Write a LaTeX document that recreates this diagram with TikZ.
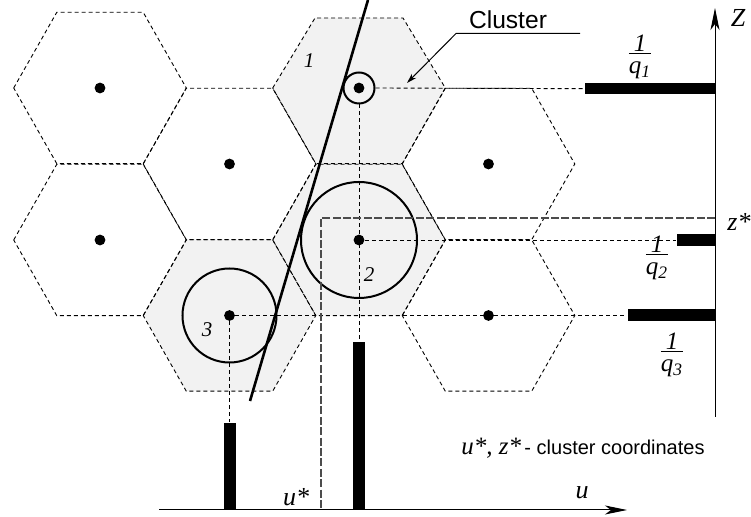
\documentclass[tikz,border=0pt]{standalone}
\usepackage{fontspec}
\setmainfont{Liberation Serif}
\setsansfont{Liberation Sans}
\usetikzlibrary{arrows.meta}
% 1/q_i weight written as a small fraction
\newcommand\invq[1]{%
  \begin{tabular}{@{}c@{}}\itshape 1\\[-3.5pt]\hline
  \rule{0pt}{10pt}\itshape q\textsubscript{\itshape #1}\end{tabular}}
\begin{document}
\begin{tikzpicture}[x=0.5pt,y=-0.5pt,
  hexedge/.style={draw=black, line width=0.45pt, dash pattern=on 2pt off 1.5pt},
  hexfill/.style={fill=black!5},
  guide/.style={line width=0.45pt, dash pattern=on 2pt off 1.5pt},
  coordline/.style={line width=0.55pt, draw=black!70, dash pattern=on 4pt off 1.2pt},
  ring/.style={circle, draw, line width=1pt, inner sep=0pt},
  dot/.style={circle, fill=black, inner sep=0pt, minimum size=5.4pt},
  hbar/.style={fill=black, inner sep=0pt, anchor=east},
  vbar/.style={fill=black, inner sep=0pt, anchor=south},
  axis/.style={line width=0.5pt, -{Stealth[length=11pt,width=4.5pt,inset=3pt]}},
  lab/.style={font=\fontsize{13}{15}\selectfont\itshape, inner sep=0pt},
  num/.style={font=\fontsize{10.5}{12}\selectfont\itshape, inner sep=0pt},
  frac/.style={font=\fontsize{12.5}{14}\selectfont, inner sep=0pt},
  hexcell/.pic={\path[pic actions] (-86.3,0) -- (-43.2,-75.7) -- (43.2,-75.7)
     -- (86.3,0) -- (43.2,75.7) -- (-43.2,75.7) -- cycle;},
  ]
\useasboundingbox (0,0) rectangle (751,517);

% shaded cells of the cluster
\fill[hexfill] (272.7,88) -- (315,18) -- (403,18) -- (445.3,88)
   -- (402.2,163.7) -- (315.8,163.7) -- cycle;
\pic[hexfill] at (359,240) {hexcell};
\pic[hexfill] at (229.5,315.5) {hexcell};

% cell outlines
\pic[hexedge] at (100,88) {hexcell};
\pic[hexedge] at (229.5,164) {hexcell};
\pic[hexedge] at (100,240) {hexcell};
\draw[hexedge] (272.7,88) -- (315,18) -- (403,18) -- (445.3,88)
   -- (402.2,163.7) -- (315.8,163.7) -- cycle;
\pic[hexedge] at (359,240) {hexcell};
\pic[hexedge] at (229.5,315.5) {hexcell};
\pic[hexedge] at (488.5,164) {hexcell};
\pic[hexedge] at (488.5,315.5) {hexcell};

% cell centres
\node[dot] (d1) at (100,88) {};
\node[dot] (d2) at (229.5,164) {};
\node[dot] (d3) at (100,240) {};
\node[dot] (d4) at (359,88) {};
\node[dot] (d5) at (359,240) {};
\node[dot] (d6) at (229.5,315.5) {};
\node[dot] (d7) at (488.5,164) {};
\node[dot] (d8) at (488.5,315.5) {};

% circles of the three cluster members
\node[ring, minimum size=15.5pt] (c1) at (d4) {};
\node[ring, minimum size=58pt] (c2) at (d5) {};
\node[ring, minimum size=47pt] (c3) at (d6) {};

% axes
\coordinate (zbot) at (715,417);
\coordinate (ztop) at (715,8);
\coordinate (uleft) at (159,510);
\coordinate (uright) at (627,510);
\draw[axis] (zbot) -- (ztop);
\draw[axis] (uleft) -- (uright);

% weight bars on the axes
\node[hbar, minimum width=65pt, minimum height=5.6pt] (b1) at (715,88.7) {};
\node[hbar, minimum width=19pt, minimum height=5.6pt] (b2) at (715,240) {};
\node[hbar, minimum width=43.5pt, minimum height=6pt] (b3) at (715,315.5) {};
\node[vbar, minimum width=5.6pt, minimum height=84pt] (u2) at (359,510) {};
\node[vbar, minimum width=6pt, minimum height=43.5pt] (u3) at (229.5,510) {};

% projections of the members onto the axes
\draw[guide] (c1.east) -- (b1.west);
\draw[guide] (c1.south) -- (u2.north);
\draw[guide] (d5.east) -- (b2.west);
\draw[guide] (d6.east) -- (b3.west);
\draw[guide] (d6.south) -- (u3.north);

% cluster coordinates
\coordinate (zs) at (321,218);
\draw[coordline] (zs -| zbot) -- (zs) -- (zs |- uleft);

% boundary line
\coordinate (la) at (368,0);
\coordinate (lb) at (250,401);
\draw[line width=1.3pt] (la) -- (lb);

% labels
\node[num] at (309,61) {1};
\node[num] at (369,275) {2};
\node[num] at (207,330) {3};
\node[lab] at (738,18) {Z};
\node[lab] at (739,222) {z*};
\node[lab] at (582,493) {u};
\node[lab] at (296,497) {u*};
\node[frac] (f1) at (640,57) {\invq{1}};
\node[frac] (f2) at (657,258) {\invq{2}};
\node[frac] (f3) at (672,355) {\invq{3}};
\node[inner sep=0pt] (note) at (583,448)
  {{\fontsize{12.5}{14}\selectfont\itshape u*, z*}\,{\sffamily\fontsize{10}{12}\selectfont- cluster coordinates}};

% cluster callout
\node[inner sep=0pt, font=\sffamily\fontsize{12.3}{14}\selectfont] (cl) at (508,19.5) {Cluster};
\coordinate (cla) at (580,33.5);
\coordinate (clb) at (456,33.5);
\coordinate (clt) at (407,83);
\draw[line width=0.5pt, -{Stealth[length=5pt,width=3pt]}] (cla) -- (clb) -- (clt);
\end{tikzpicture}
\end{document}
